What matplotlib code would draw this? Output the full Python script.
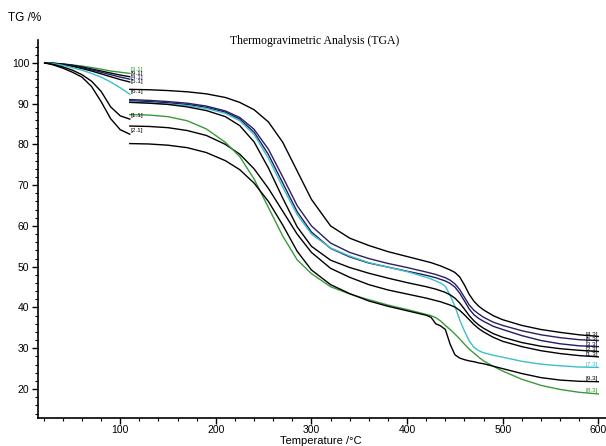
import numpy as np
import matplotlib
matplotlib.use('Agg')
import matplotlib.pyplot as plt
from matplotlib.ticker import MultipleLocator

# segment 1: heating up to 110 C
t1 = [21, 30, 40, 50, 60, 70, 80, 90, 100, 110]
s1_green = [100, 99.9, 99.75, 99.5, 99.2, 98.85, 98.45, 98.0, 97.7, 97.4]
s1_blk_a = [100, 99.9, 99.7, 99.4, 99.0, 98.5, 98.0, 97.5, 97.0, 96.6]
s1_navy = [100, 99.9, 99.65, 99.3, 98.85, 98.3, 97.7, 97.1, 96.5, 96.0]
s1_blk_b = [100, 99.85, 99.55, 99.15, 98.6, 98.0, 97.3, 96.6, 95.9, 95.3]
s1_teal = [100, 99.8, 99.4, 98.8, 98.2, 97.4, 96.5, 95.3, 93.9, 92.3]
s1_one = [100, 99.6, 99.0, 98.2, 97.1, 95.5, 93.0, 89.2, 87.0, 86.2]
s1_two = [100, 99.5, 98.7, 97.7, 96.5, 94.2, 90.5, 86.3, 83.6, 82.5]
s1_curves = [s1_green, s1_blk_a, s1_navy, s1_blk_b, s1_teal, s1_one, s1_two]
s1_colors = ['#3a9a3a', 'k', '#1c1c6a', 'k', '#3cbfc6', 'k', 'k']
s1_labels = ['[3.1]', '[9.1]', '[4.1]', '[5.1]', '[6.1]', '[1.1]', '[2.1]']
s1_label_colors = ['#3a9a3a', 'k', '#1c1c6a', 'k', 'k', 'k', 'k']
s1_label_y = [98.4, 97.3, 96.4, 95.5, 93.0, 87.0, 83.3]

# segment 3: 110 C to 600 C
t3 = [110, 130, 150, 170, 190, 210, 225, 240, 255, 270, 285, 300, 320, 340,
      360, 380, 400, 420, 425, 430, 435, 440, 445, 450, 455, 460, 465, 470,
      475, 480, 490, 500, 520, 540, 560, 580, 600]
s3_a = [93.5, 93.4, 93.2, 92.9, 92.4, 91.5, 90.3, 88.5, 85.5, 80.5, 73.5, 66.5,
        60.0, 57.0, 55.2, 53.7, 52.5, 51.3, 51.0, 50.6, 50.2, 49.7, 49.2, 48.6,
        47.5, 45.5, 43.2, 41.5, 40.3, 39.4, 38.0, 37.0, 35.6, 34.6, 33.9, 33.3, 32.9]
s3_b = [91.0, 90.8, 90.5, 90.1, 89.4, 88.2, 86.6, 83.7, 78.8, 72.0, 65.0, 60.0,
        55.8, 53.5, 52.0, 50.8, 49.8, 48.7, 48.4, 48.1, 47.7, 47.3, 46.7, 45.8,
        44.4, 42.5, 40.6, 39.3, 38.4, 37.6, 36.4, 35.6, 34.3, 33.3, 32.6, 32.1, 31.9]
s3_c = [90.7, 90.5, 90.2, 89.8, 89.1, 87.9, 86.2, 83.0, 77.5, 70.5, 63.5, 58.5,
        54.5, 52.4, 50.9, 49.9, 48.9, 47.9, 47.6, 47.3, 46.9, 46.5, 45.9, 45.0,
        43.5, 41.6, 39.6, 38.2, 37.3, 36.6, 35.4, 34.6, 33.1, 31.9, 31.1, 30.6, 30.4]
s3_teal = [90.4, 90.2, 89.9, 89.5, 88.8, 87.6, 85.8, 82.4, 76.6, 69.5, 62.8, 58.0,
           54.6, 52.6, 51.0, 49.9, 48.8, 47.4, 47.0, 46.5, 46.0, 45.2, 43.0, 40.3,
           37.0, 34.2, 31.8, 30.2, 29.4, 28.9, 28.3, 27.8, 26.8, 26.1, 25.7, 25.4, 25.3]
s3_d = [90.3, 90.1, 89.8, 89.2, 88.3, 86.8, 84.6, 80.6, 74.2, 66.8, 59.8, 55.0,
        51.6, 49.8, 48.4, 47.2, 46.1, 45.1, 44.8, 44.5, 44.1, 43.7, 43.1, 42.3,
        41.1, 39.6, 38.0, 36.7, 35.7, 34.9, 33.6, 32.7, 31.4, 30.5, 29.9, 29.5, 29.2]
s3_navy = [84.5, 84.4, 84.1, 83.4, 82.2, 80.0, 77.6, 74.0, 69.2, 63.6, 58.0, 53.5,
           49.6, 47.4, 45.6, 44.3, 43.3, 42.3, 42.0, 41.7, 41.4, 41.0, 40.6, 40.1,
           39.3, 38.2, 37.0, 35.8, 34.8, 34.0, 32.7, 31.7, 30.4, 29.4, 28.7, 28.2, 27.9]
s3_green = [87.3, 87.2, 86.8, 85.8, 83.8, 80.5, 77.0, 71.5, 64.5, 57.5, 51.7, 48.3,
            45.1, 43.3, 41.9, 40.6, 39.5, 38.3, 38.0, 37.5, 36.7, 35.6, 34.6, 33.5,
            32.3, 31.0, 29.8, 28.8, 27.8, 26.9, 25.6, 24.4, 22.4, 20.9, 19.9, 19.2, 18.8]
s3_blk9 = [80.2, 80.1, 79.8, 79.2, 78.0, 76.0, 73.8, 70.5, 66.0, 60.2, 53.8, 49.2,
           45.6, 43.4, 41.6, 40.3, 39.2, 38.1, 37.6, 36.0, 35.5, 34.6, 31.0, 28.4,
           27.6, 27.2, 26.9, 26.7, 26.4, 26.2, 25.6, 25.0, 23.8, 22.8, 22.2, 21.9, 21.8]
s3_curves = [s3_a, s3_b, s3_c, s3_teal, s3_d, s3_navy, s3_green, s3_blk9]
s3_colors = ['k', '#2b1f5e', '#1c1c6a', '#3cbfc6', 'k', 'k', '#3a9a3a', 'k']
s3_labels = ['[4.3]', '[5.3]', '[3.3]', '[7.3]', '[2.3]', '[1.3]', '[8.3]', '[9.3]']
s3_label_colors = ['k', 'k', 'k', '#3cbfc6', 'k', 'k', '#3a9a3a', 'k']
s3_label_y = [33.4, 32.2, 30.9, 26.1, 29.6, 28.4, 19.6, 22.6]

plt.rcParams['font.family'] = ['Liberation Sans', 'DejaVu Sans']

fig = plt.figure(figsize=(6.06, 4.46), dpi=100)
ax = fig.add_axes([0.0622, 0.0628, 0.9378, 0.8475])

for y, c, lab, lc, ly in zip(s1_curves, s1_colors, s1_labels,
                             s1_label_colors, s1_label_y):
    ax.plot(t1, y, color=c, lw=1.0)
    ax.text(t1[-1] + 0.3, ly, lab, color=lc, fontsize=4.6,
            ha='left', va='center')

for y, c, lab, lc, ly in zip(s3_curves, s3_colors, s3_labels,
                             s3_label_colors, s3_label_y):
    ax.plot(t3, y, color=c, lw=1.0)
    ax.text(t3[-1] - 0.5, ly, lab, color=lc, fontsize=4.6,
            ha='right', va='center')

ax.set_xlim(13.7, 608)
ax.set_ylim(12.9, 105.6)
ax.xaxis.set_major_locator(MultipleLocator(100))
ax.xaxis.set_minor_locator(MultipleLocator(20))
ax.yaxis.set_major_locator(MultipleLocator(10))
ax.yaxis.set_minor_locator(MultipleLocator(2))
ax.tick_params(which='major', length=4, width=1, labelsize=7.5, pad=2)
ax.tick_params(axis='x', which='major', pad=1)
ax.tick_params(which='minor', length=2, width=0.8)
for s in ['top', 'right']:
    ax.spines[s].set_visible(False)
for s in ['left', 'bottom']:
    ax.spines[s].set_linewidth(1.2)

fig.text(8 / 606, 1 - 18 / 446, 'TG /%', fontsize=8.5, va='center', ha='left')
fig.text(315 / 606, 1 - 41 / 446, 'Thermogravimetric Analysis (TGA)',
         fontsize=8.5, family='Liberation Serif', ha='center', va='center')
fig.text(321 / 606, 1 - 441 / 446, 'Temperature /\u00b0C', fontsize=8,
         ha='center', va='center')

fig.savefig('out.png', dpi=100)
